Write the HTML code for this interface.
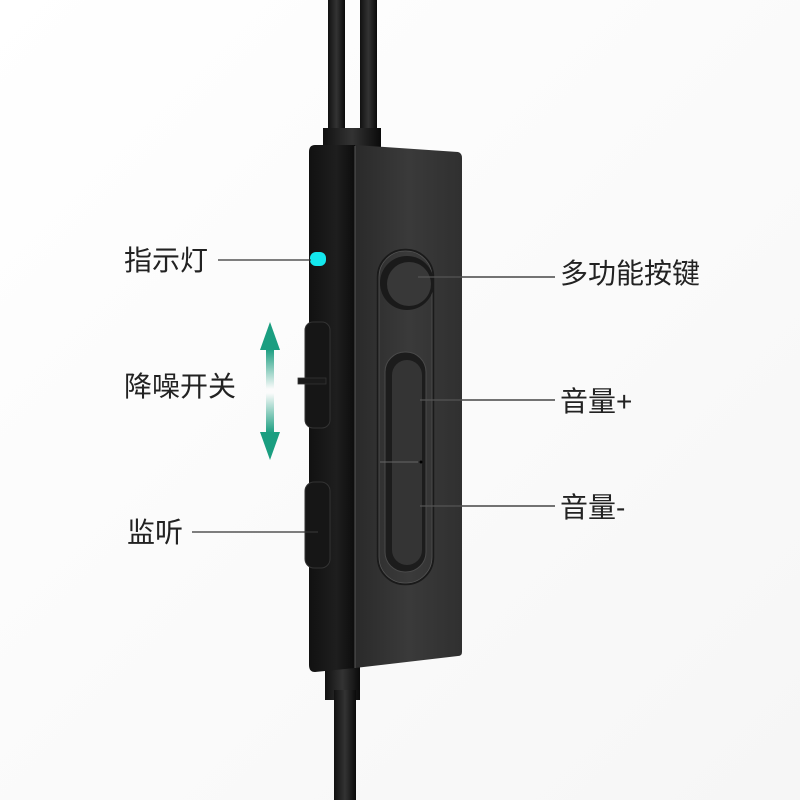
<!DOCTYPE html>
<html><head><meta charset="utf-8"><style>
body{margin:0;background:#fff;}
.t{font-family:"Liberation Sans","Noto Sans CJK SC",sans-serif;font-size:28px;fill:#222;}
</style></head><body>
<svg width="800" height="800" viewBox="0 0 800 800" xmlns="http://www.w3.org/2000/svg">
<defs>
<linearGradient id="bg" x1="0" y1="0" x2="1" y2="1"><stop offset="0" stop-color="#ffffff"/><stop offset="1" stop-color="#f6f6f6"/></linearGradient>
<linearGradient id="front" x1="0" y1="0" x2="1" y2="0"><stop offset="0" stop-color="#2a2a2a"/><stop offset="0.5" stop-color="#3a3a3a"/><stop offset="1" stop-color="#303030"/></linearGradient>
<linearGradient id="side" x1="0" y1="0" x2="1" y2="0"><stop offset="0" stop-color="#111"/><stop offset="0.6" stop-color="#1e1e1e"/><stop offset="1" stop-color="#0c0c0c"/></linearGradient>
<linearGradient id="cab" x1="0" y1="0" x2="1" y2="0"><stop offset="0" stop-color="#111"/><stop offset="0.5" stop-color="#333"/><stop offset="1" stop-color="#0a0a0a"/></linearGradient>
<linearGradient id="arU" x1="0" y1="0" x2="0" y2="1"><stop offset="0" stop-color="#1a9e80"/><stop offset="1" stop-color="#1a9e80" stop-opacity="0"/></linearGradient>
<linearGradient id="arD" x1="0" y1="1" x2="0" y2="0"><stop offset="0" stop-color="#1a9e80"/><stop offset="1" stop-color="#1a9e80" stop-opacity="0"/></linearGradient>
</defs>
<rect width="800" height="800" fill="url(#bg)"/>
<rect x="328" y="0" width="17" height="150" fill="url(#cab)"/>
<rect x="360" y="0" width="17" height="150" fill="url(#cab)"/>
<rect x="323" y="128" width="58" height="22" fill="url(#cab)"/>
<rect x="325" y="660" width="35" height="40" fill="url(#cab)"/>
<rect x="334" y="690" width="22" height="110" fill="url(#cab)"/>
<path d="M315 145 L355 145 L355 668 L315 672 Q309 672 309 665 L309 152 Q309 145 315 145Z" fill="url(#side)"/>
<path d="M355 145 L458 152 Q462 153 462 158 L462 652 Q462 656 458 656 L355 668Z" fill="url(#front)"/>
<line x1="355" y1="146" x2="355" y2="668" stroke="#555" stroke-width="1"/>
<rect x="310" y="252" width="16" height="14" rx="6" fill="#14e8ee"/>
<rect x="305" y="322" width="25" height="106" rx="8" fill="#161616" stroke="#333"/>
<rect x="298" y="378" width="28" height="6" fill="#1a1a1a" stroke="#333" stroke-width="0.8"/>
<rect x="305" y="482" width="25" height="86" rx="9" fill="#161616" stroke="#333"/>
<rect x="378" y="250" width="55" height="334" rx="27" fill="none" stroke="#1a1a1a" stroke-width="2.5"/>
<rect x="379" y="251" width="53" height="332" rx="26" fill="none" stroke="#555" stroke-width="0.8"/>
<circle cx="407" cy="283" r="27" fill="#1a1a1a"/>
<circle cx="409" cy="284" r="22" fill="#383838"/>
<rect x="385" y="352" width="41" height="220" rx="20" fill="#1c1c1c" stroke="#4a4a4a" stroke-width="1"/>
<rect x="392" y="360" width="30" height="205" rx="15" fill="#343434"/>
<line x1="380" y1="462" x2="418" y2="462" stroke="#666" stroke-width="1"/>
<circle cx="421" cy="462" r="1.5" fill="#000"/>
<polygon points="270,322 260,350 280,350" fill="#1a9e80"/>
<rect x="266" y="349" width="8" height="40" fill="url(#arU)"/>
<polygon points="270,460 260,432 280,432" fill="#1a9e80"/>
<rect x="266" y="393" width="8" height="40" fill="url(#arD)"/>
<g stroke="#333" stroke-width="1.2">
<line x1="218" y1="260" x2="311" y2="260"/>
<line x1="192" y1="532" x2="318" y2="532"/>
</g>
<g stroke="#222" stroke-width="1.2">
<line x1="418" y1="277" x2="555" y2="277"/>
<line x1="420" y1="400" x2="555" y2="400"/>
<line x1="420" y1="506" x2="555" y2="506"/>
</g>
<g stroke="#777" stroke-width="0.8">
<line x1="418" y1="277" x2="462" y2="277"/>
<line x1="420" y1="400" x2="462" y2="400"/>
<line x1="420" y1="506" x2="462" y2="506"/>
</g>
<text class="t" x="124" y="270">指示灯</text>
<text class="t" x="124" y="396">降噪开关</text>
<text class="t" x="127" y="542">监听</text>
<text class="t" x="560" y="283">多功能按键</text>
<text class="t" x="560" y="411">音量+</text>
<text class="t" x="560" y="517">音量-</text>
</svg>
</body></html>
